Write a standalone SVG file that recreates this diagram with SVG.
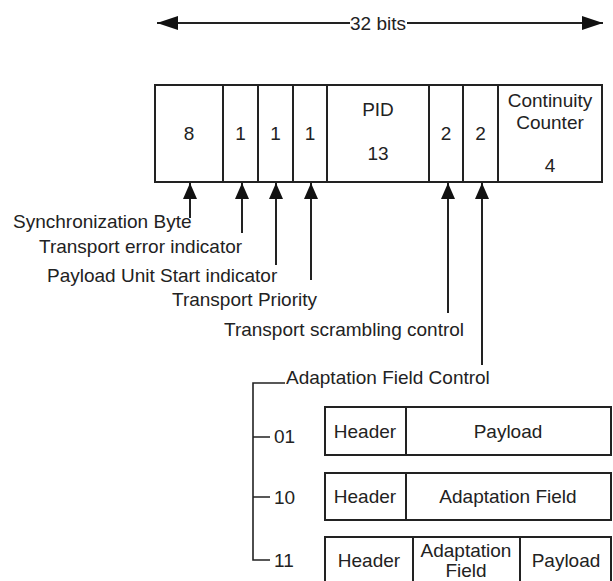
<svg xmlns="http://www.w3.org/2000/svg" width="613" height="581" viewBox="0 0 613 581">
<style>
text{font-family:"Liberation Sans",Arial,sans-serif;font-size:19px;fill:#222;text-anchor:middle}
.l{text-anchor:start}
.box{fill:#fff;stroke:#222;stroke-width:2}
.ln{fill:none;stroke:#222;stroke-width:2}
.br{fill:none;stroke:#222;stroke-width:1.6}
</style>
<defs>
<marker id="ah" markerUnits="userSpaceOnUse" markerWidth="16" markerHeight="14" refX="16" refY="7" orient="auto"><path d="M0,0 L16,7 L0,14 z" fill="#111"/></marker>
<marker id="ah2" markerUnits="userSpaceOnUse" markerWidth="21" markerHeight="14" refX="21" refY="7" orient="auto"><path d="M0,0 L21,7 L0,14 z" fill="#111"/></marker>
</defs>
<rect width="613" height="581" fill="#fff"/>
<g id="width-label"><text x="378" y="30">32 bits</text></g>
<g id="ts-header">
<g id="f-sync"><rect class="box" x="155" y="85" width="68" height="97"/><text x="189" y="140">8</text></g>
<g id="f-tei"><rect class="box" x="223" y="85" width="35" height="97"/><text x="240.5" y="140">1</text></g>
<g id="f-pusi"><rect class="box" x="258" y="85" width="35" height="97"/><text x="275.5" y="140">1</text></g>
<g id="f-prio"><rect class="box" x="293" y="85" width="34" height="97"/><text x="310" y="140">1</text></g>
<g id="f-pid"><rect class="box" x="327" y="85" width="102" height="97"/><text x="378" y="116">PID</text><text x="378" y="160">13</text></g>
<g id="f-tsc"><rect class="box" x="429" y="85" width="34" height="97"/><text x="446" y="140">2</text></g>
<g id="f-afc"><rect class="box" x="463" y="85" width="35" height="97"/><text x="480.5" y="140">2</text></g>
<g id="f-cc"><rect class="box" x="498" y="85" width="104" height="97"/><text x="550" y="107">Continuity</text><text x="550" y="129">Counter</text><text x="550" y="172">4</text></g>
</g>
<g id="lbl-sync"><text class="l" x="13" y="228">Synchronization Byte</text></g>
<g id="lbl-tei"><text class="l" x="39" y="253">Transport error indicator</text></g>
<g id="lbl-pusi"><text class="l" x="47" y="282">Payload Unit Start indicator</text></g>
<g id="lbl-prio"><text class="l" x="172" y="306">Transport Priority</text></g>
<g id="lbl-tsc"><text class="l" x="224" y="336">Transport scrambling control</text></g>
<g id="lbl-afc"><text class="l" x="286" y="384">Adaptation Field Control</text></g>
<g id="lbl-01"><text class="l" x="274" y="443">01</text></g>
<g id="lbl-10"><text class="l" x="274" y="504">10</text></g>
<g id="lbl-11"><text class="l" x="274" y="567">11</text></g>
<g id="pkt-01"><rect class="box" x="325" y="407" width="286" height="48"/><line class="ln" x1="406" y1="407" x2="406" y2="455"/><text x="365" y="438">Header</text><text x="508" y="438">Payload</text></g>
<g id="pkt-10"><rect class="box" x="325" y="473" width="286" height="47"/><line class="ln" x1="406" y1="473" x2="406" y2="520"/><text x="365" y="503">Header</text><text x="508" y="503">Adaptation Field</text></g>
<g id="pkt-11"><rect class="box" x="325" y="537" width="286" height="50"/><line class="ln" x1="413" y1="537" x2="413" y2="587"/><line class="ln" x1="520" y1="537" x2="520" y2="587"/><text x="369" y="567">Header</text><text x="466" y="557">Adaptation</text><text x="466" y="577">Field</text><text x="566" y="567">Payload</text></g>
<g id="connectors">
<line class="ln" x1="350" y1="23" x2="157" y2="23" marker-end="url(#ah2)"/>
<line class="ln" x1="407" y1="23" x2="603" y2="23" marker-end="url(#ah2)"/>
<line class="ln" x1="190" y1="218" x2="190" y2="183" marker-end="url(#ah)"/>
<line class="ln" x1="242" y1="233" x2="242" y2="183" marker-end="url(#ah)"/>
<line class="ln" x1="276" y1="265" x2="276" y2="183" marker-end="url(#ah)"/>
<line class="ln" x1="311" y1="280" x2="311" y2="183" marker-end="url(#ah)"/>
<line class="ln" x1="448" y1="313" x2="448" y2="183" marker-end="url(#ah)"/>
<line class="ln" x1="482" y1="365" x2="482" y2="183" marker-end="url(#ah)"/>
<path class="br" d="M285,383 H253 V560 H270 M253,437 H270 M253,497 H270"/>
</g>
</svg>
